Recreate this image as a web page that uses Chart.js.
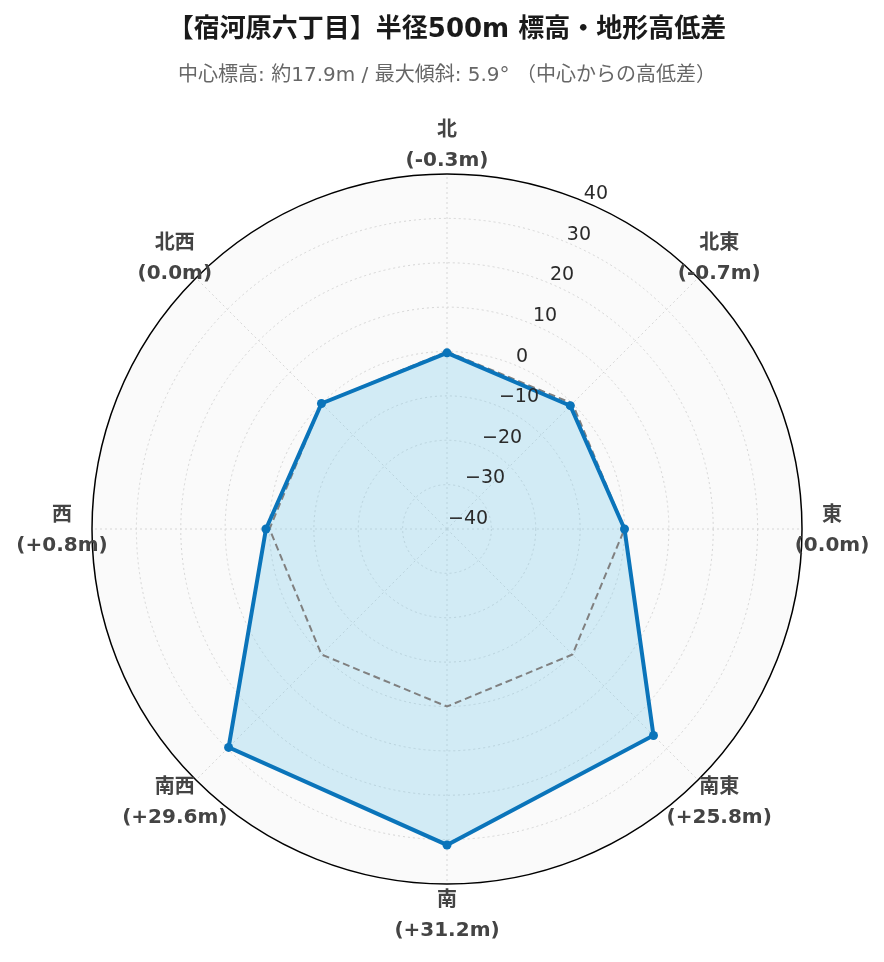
<!DOCTYPE html>
<html>
<head>
<meta charset="utf-8">
<script src="https://cdn.jsdelivr.net/npm/chart.js@4.4.0/dist/chart.umd.min.js"></script>
<style>
  body { margin: 0; background: #fff; }
  #wrap { width: 884px; height: 962px; }
</style>
</head>
<body>
<div id="wrap"><canvas id="myChart" width="884" height="962"></canvas></div>
<script>
'use strict';

// directions, clockwise from north
var directions = ['北', '北東', '東', '南東', '南', '南西', '西', '北西'];
// height difference from the centre (m)
var diffs = [-0.3, -0.7, 0.0, 25.8, 31.2, 29.6, 0.8, 0.0];
// reference line (zero difference)
var zeroLine = [0, 0, 0, 0, 0, 0, 0, 0];
// radial tick labels
var tickValues = [-40, -30, -20, -10, 0, 10, 20, 30, 40];

var titleText = '【宿河原六丁目】半径500m 標高・地形高低差';
var subtitleText = '中心標高: 約17.9m / 最大傾斜: 5.9° （中心からの高低差）';

function fmtDiff(v) {
  if (v > 0) return '(+' + v.toFixed(1) + 'm)';
  return '(' + v.toFixed(1) + 'm)';
}

//draws the tick numbers along a slanted line and the two-line direction labels
var labelPlugin = {
  id: 'labelPlugin',
  afterDatasetsDraw: function(chart) {
    var ctx = chart.ctx;
    var scale = chart.scales.r;
    ctx.save();

    // ticks on the 22.5 deg line
    ctx.font = '19px "DejaVu Sans"';
    ctx.fillStyle = '#2a2a2a';
    ctx.textAlign = 'left';
    ctx.textBaseline = 'middle';
    for (var i = 0; i < tickValues.length; i++) {
      var v = tickValues[i];
      var p = scale.getPointPositionForValue(0.5, v);
      var txt = v < 0 ? '\u2212' + Math.abs(v) : String(v);
      ctx.fillText(txt, p.x + 1, p.y - 10 + i * 0.4);
    }

    // direction labels
    ctx.font = 'bold 20px "DejaVu Sans", "Noto Sans CJK JP"';
    ctx.fillStyle = '#444';
    ctx.textAlign = 'center';
    for (var j = 0; j < directions.length; j++) {
      var q = scale.getPointPosition(j, scale.drawingArea + 30);
      ctx.fillText(directions[j], q.x, q.y - 13);
      ctx.fillText(fmtDiff(diffs[j]), q.x, q.y + 17);
    }
    ctx.restore();
  }
};

var ctx = document.getElementById('myChart').getContext('2d');
var chart = new Chart(ctx, {
  type: 'radar',
  data: {
    labels: directions,
    datasets: [{
      label: '高低差',
      data: diffs,
      borderColor: '#0a74ba',
      backgroundColor: 'rgba(135, 206, 235, 0.35)',
      borderWidth: 4,
      pointRadius: 4.5,
      pointBackgroundColor: '#0a74ba',
      pointBorderColor: '#0a74ba',
      pointBorderWidth: 0,
      fill: 'start',
      order: 1
    }, {
      label: '基準',
      data: zeroLine,
      borderColor: '#808080',
      borderWidth: 2,
      borderDash: [7, 4],
      pointRadius: 0,
      fill: false,
      order: 2
    }]
  },
  plugins: [labelPlugin],
  options: {
    responsive: false,
    animation: false,
    layout: {
      padding: { top: 0, left: 92, right: 82, bottom: 77 }
    },
    plugins: {
      legend: { display: false },
      tooltip: { enabled: false },
      filler: { drawTime: 'beforeDatasetsDraw' },
      title: {
        display: true,
        text: titleText,
        color: '#1a1a1a',
        font: { family: '"DejaVu Sans", "Noto Sans CJK JP"', size: 26, weight: 'bold' },
        padding: { top: 15, bottom: 18 }
      },
      subtitle: {
        display: true,
        text: subtitleText,
        color: '#666',
        font: { family: '"DejaVu Sans", "Noto Sans CJK JP"', size: 20 },
        padding: { top: 0, bottom: 85 }
      }
    },
    scales: {
      r: {
        min: -40,
        max: 40,
        backgroundColor: '#fafafa',
        ticks: { display: false, stepSize: 10 },
        pointLabels: { display: false },
        grid: {
          circular: true,
          color: function(c) { return c.index === tickValues.length - 1 ? '#000' : '#d6d6d6'; },
          lineWidth: function(c) { return c.index === tickValues.length - 1 ? 1.5 : 1; }
        },
        border: {
          dash: function(c) { return c.index === tickValues.length - 1 ? [] : [2, 3]; }
        },
        angleLines: {
          color: '#d6d6d6',
          lineWidth: 1,
          borderDash: [2, 3]
        }
      }
    }
  }
});
</script>
</body>
</html>
